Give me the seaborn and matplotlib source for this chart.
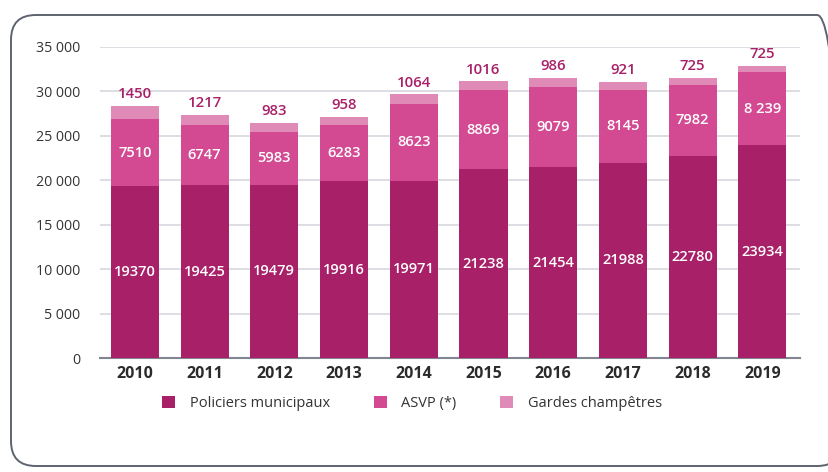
import numpy as np
import pandas as pd
import matplotlib.pyplot as plt
import seaborn as sns
from matplotlib.patches import FancyBboxPatch, Patch

# data
years = ["2010", "2011", "2012", "2013", "2014", "2015", "2016", "2017", "2018", "2019"]
policiers = [19370, 19425, 19479, 19916, 19971, 21238, 21454, 21988, 22780, 23934]
asvp = [7510, 6747, 5983, 6283, 8623, 8869, 9079, 8145, 7982, 8239]
gardes = [1450, 1217, 983, 958, 1064, 1016, 986, 921, 725, 725]
asvp_labels = ["7510", "6747", "5983", "6283", "8623", "8869", "9079", "8145", "7982", "8 239"]
series_names = ["Policiers municipaux", "ASVP (*)", "Gardes champêtres"]
colors = ["#a82068", "#d34a93", "#df8ab7"]

df = pd.DataFrame({"year": years, "pol": policiers, "asvp": asvp, "gardes": gardes})
df["pol_asvp"] = df["pol"] + df["asvp"]
df["total"] = df["pol_asvp"] + df["gardes"]

sns.set_theme(style="white")
plt.rcParams["font.family"] = ["Open Sans", "DejaVu Sans"]

fig = plt.figure(figsize=(8.29, 4.72), dpi=100)
ax = fig.add_axes([100 / 829, 1 - 358 / 472, 700 / 829, 311 / 472])

# stacked bars: draw cumulative totals from the top down
for col, c, z in [("total", colors[2], 2), ("pol_asvp", colors[1], 3), ("pol", colors[0], 4)]:
    sns.barplot(data=df, x="year", y=col, color=c, width=0.69, saturation=1,
                linewidth=0, edgecolor="none", ax=ax, zorder=z)

ax.set_ylim(0, 35000)
ax.set_xlim(-0.5, 9.54)
ticks = np.arange(0, 35001, 5000)
ax.set_yticks(ticks)
ax.set_yticklabels([f"{t:,}".replace(",", " ") for t in ticks], fontsize=10.2, color="#333333")
ax.yaxis.grid(True, color="#d5d8de", linewidth=1.2, zorder=0)
ax.set_axisbelow(True)
for s in ["top", "right", "left"]:
    ax.spines[s].set_visible(False)
ax.spines["bottom"].set_color("#80858f")
ax.spines["bottom"].set_linewidth(1.5)
ax.tick_params(axis="y", length=0, pad=14)
ax.tick_params(axis="x", length=0, pad=6)
ax.set_xticks(range(len(years)))
ax.set_xticklabels(years, fontsize=11.5, fontweight="bold", color="#2b2b2b")
ax.set_xlabel("")
ax.set_ylabel("")

# value labels
for i, row in df.iterrows():
    ax.text(i, row["pol"] / 2, str(row["pol"]), ha="center", va="center",
            color="white", fontsize=10.5, fontweight="semibold", zorder=5)
    ax.text(i, row["pol"] + row["asvp"] / 2, asvp_labels[i], ha="center", va="center",
            color="white", fontsize=10.5, fontweight="semibold", zorder=5)
    ax.annotate(str(row["gardes"]), (i, row["total"]), xytext=(0, 3.5),
                textcoords="offset points", ha="center", va="bottom",
                color=colors[0], fontsize=10.8, fontweight="semibold", zorder=5)

handles = [Patch(facecolor=c, edgecolor="none") for c in colors]
fig.legend(handles, series_names, loc="center", bbox_to_anchor=(0.497, 0.146),
           ncol=3, frameon=False, fontsize=10.5, handlelength=0.9, handleheight=0.9,
           columnspacing=3.0, handletextpad=1.0, labelcolor="#333333")

# rounded frame around the chart
frame = FancyBboxPatch((11 / 829, 1 - 466 / 472), (842 - 11) / 829, (466 - 15) / 472,
                       boxstyle="round,pad=0,rounding_size=0.03",
                       transform=fig.transFigure, facecolor="none",
                       edgecolor="#5d6470", linewidth=1.4, mutation_aspect=829 / 472)
fig.patches.append(frame)

fig.savefig("out.png", dpi=100)
